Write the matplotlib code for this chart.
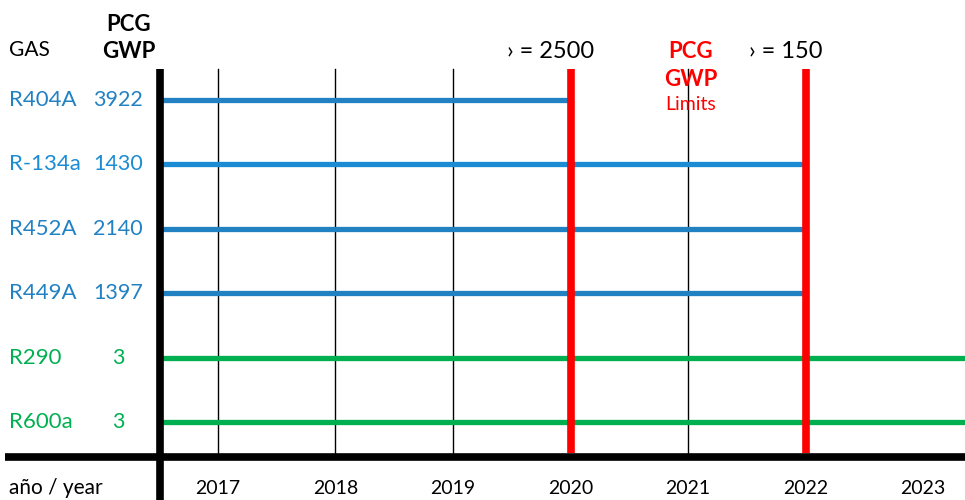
import matplotlib.pyplot as plt

# gases, GWP and the year each one stops being allowed (None = no limit)
gases = ["R404A", "R-134a", "R452A", "R449A", "R290", "R600a"]
gwp = ["3922", "1430", "2140", "1397", "3", "3"]
end_year = [2020, 2022, 2022, 2022, None, None]
gas_colors = ["#2281c2", "#1b8bd4", "#2281c2", "#2281c2", "#00b050", "#00b050"]

years = [2017, 2018, 2019, 2020, 2021, 2022, 2023]
limit_years = [2020, 2022]
limit_labels = ["› = 2500", "› = 150"]
grid_years = [2017, 2018, 2019, 2021]

plt.rcParams["font.family"] = ["Lato", "DejaVu Sans"]

fig = plt.figure(figsize=(9.65, 5), dpi=100)
ax = fig.add_axes([0, 0, 1, 1])

# x in years, y in row index
x_left, x_right = 2015.145, 2023.357
ax.set_xlim(x_left, x_right)
ax.set_ylim(6.211, -1.553)
ax.axis("off")

x_axis = 2016.506
y_top = -0.48
y_base = 5.48

# thin year lines
for yr in grid_years:
    ax.plot([yr, yr], [y_top, y_base], color="black", lw=1.0, zorder=1)

# gas lines
for i, g in enumerate(gases):
    x1 = end_year[i] if end_year[i] is not None else x_right
    ax.plot([x_axis, x1], [i, i], color=gas_colors[i], lw=3.8,
            solid_capstyle="butt", zorder=2)
    ax.text(x_left + 0.08, i, g, color=gas_colors[i], fontsize=16,
            ha="left", va="center")
    ax.text(2016.15, i, gwp[i], color=gas_colors[i], fontsize=15.5,
            ha="center", va="center")

# red limit lines
for yr, lab in zip(limit_years, limit_labels):
    ax.plot([yr, yr], [y_top, y_base], color="#ff0000", lw=5.5,
            solid_capstyle="butt", zorder=3)
    ax.text(yr - 0.17, -0.75, lab, fontsize=17, ha="center", va="center",
            color="black")

ax.text(2021.02, -0.75, "PCG", color="#ff0000", fontsize=16,
        fontweight="bold", ha="center", va="center")
ax.text(2021.02, -0.32, "GWP", color="#ff0000", fontsize=16,
        fontweight="bold", ha="center", va="center")
ax.text(2021.02, 0.07, "Limits", color="#ff0000", fontsize=14,
        ha="center", va="center")

# axes
ax.plot([x_axis, x_axis], [y_top, 6.3], color="black", lw=5.5,
        solid_capstyle="butt", zorder=4)
ax.plot([x_left + 0.04, x_right], [5.55, 5.55], color="black", lw=5.5,
        solid_capstyle="butt", zorder=4)

# headers
ax.text(x_left + 0.08, -0.77, "GAS", fontsize=15, ha="left", va="center")
ax.text(2016.24, -1.17, "PCG", fontsize=16, fontweight="bold",
        ha="center", va="center")
ax.text(2016.24, -0.76, "GWP", fontsize=16, fontweight="bold",
        ha="center", va="center")

# year labels
for yr in years:
    ax.text(yr, 6.03, str(yr), fontsize=14, ha="center", va="center")
ax.text(x_left + 0.08, 6.03, "año / year", fontsize=15, ha="left",
        va="center")

fig.savefig("out.png", dpi=100)
